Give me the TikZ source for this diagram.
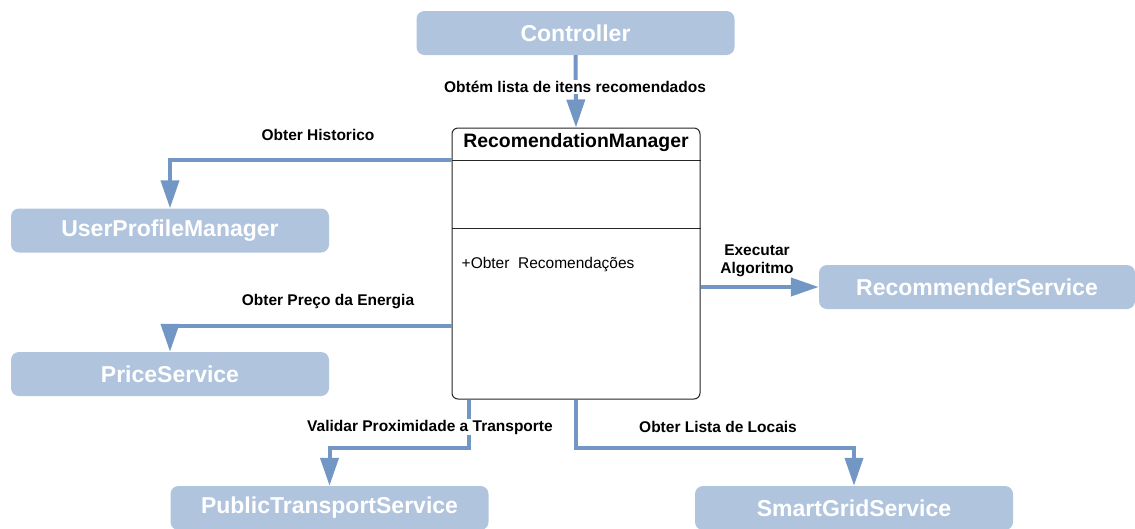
\documentclass[tikz,border=0pt]{standalone}
\usepackage{fontspec}
\setmainfont{Liberation Sans}
\usetikzlibrary{arrows.meta,calc}
\definecolor{svcfill}{RGB}{176,196,222}
\definecolor{linkblue}{RGB}{115,151,196}
\tikzset{
  svc/.style={draw=none, fill=svcfill, rounded corners=8pt, minimum width=318pt,
    minimum height=44pt, inner sep=0pt, text=white, font=\fontsize{23}{25}\selectfont\bfseries},
  conn/.style={draw=linkblue, line width=4pt, -{Triangle[width=18pt,length=28pt]}},
  lbl/.style={font=\fontsize{15.5}{18}\selectfont\bfseries, inner sep=1pt, align=center},
  classbox/.style={draw=black!85, line width=1pt, fill=white, rounded corners=6pt,
    minimum width=248pt, minimum height=271pt, inner sep=0pt}
}
\begin{document}
\begin{tikzpicture}[x=1pt, y=-1pt]
\useasboundingbox (0,0) rectangle (1135,528);

% service boxes
\node[svc] (ctrl) at (575.5,33) {Controller};
\node[svc] (upm) at (170,230.5) {UserProfileManager};
\node[svc] (price) at (170,374) {PriceService};
\node[svc, minimum width=316pt] (rs) at (977,287) {RecommenderService};
\node[svc] (pts) at (329.5,508) {PublicTransportService};
\node[svc] (sgs) at (854,508) {SmartGridService};

% manager class
\node[classbox] (rm) at (576,263.5) {};
\draw[black!85, line width=1pt] ($(rm.north west)+(0,33)$) -- ($(rm.north east)+(0,33)$);
\draw[black!85, line width=1pt] ($(rm.north west)+(0,101)$) -- ($(rm.north east)+(0,101)$);
\node[font=\fontsize{19.4}{21}\selectfont\bfseries] (rmname) at ($(rm.north)+(0,15.5)$) {RecomendationManager};
\node[font=\fontsize{15.5}{18}\selectfont, anchor=west, inner sep=0pt] (rmop) at ($(rm.north west)+(10,137)$) {+Obter\ \ Recomendações};

% connectors
\draw[conn] (ctrl.south) -- (rm.north);
\node[lbl, fill=white] (l1) at (575,87) {Obtém lista de itens recomendados};

\draw[conn] ($(rm.north west)+(0,32)$) -| (upm.north);
\node[lbl] (l2) at (318,135) {Obter Historico};

\draw[conn] ($(rm.north west)+(0,198)$) -| (price.north);
\node[lbl] (l3) at (328,302) {Obter Preço da Energia};

\draw[conn] (rs.west -| rm.east) -- (rs.west);
\node[lbl] (l4) at (757,261) {Executar\\Algoritmo};

\draw[conn] ($(rm.south west)+(17,0)$) -- ++(0,48) -| (pts.north);
\node[lbl, fill=white] (l5) at (430,427) {Validar Proximidade a Transporte};

\draw[conn] (rm.south) -- ++(0,48) -| (sgs.north);
\node[lbl] (l6) at (718,427) {Obter Lista de Locais};

\end{tikzpicture}
\end{document}
